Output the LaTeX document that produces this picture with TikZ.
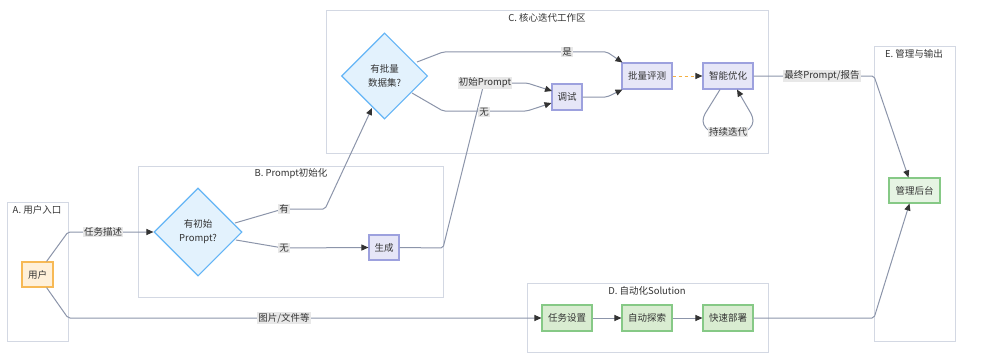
\documentclass[tikz,border=0pt]{standalone}
\usepackage{fontspec}
\setmainfont{Noto Sans CJK SC}
\usetikzlibrary{arrows.meta,shapes.geometric}
\definecolor{clus}{HTML}{D3D8E3}
\definecolor{edgec}{HTML}{8C95AA}
\definecolor{tipc}{HTML}{333333}
\definecolor{lblbg}{HTML}{E8E8E8}
\definecolor{txt}{HTML}{333333}
\definecolor{userf}{HTML}{FFF0D9}
\definecolor{userb}{HTML}{F7B955}
\definecolor{lavf}{HTML}{E6E6F7}
\definecolor{lavb}{HTML}{9DA1DE}
\definecolor{grnf}{HTML}{D9ECD1}
\definecolor{grnb}{HTML}{86C986}
\definecolor{admf}{HTML}{E6F4E3}
\definecolor{diaf}{HTML}{E3F2FD}
\definecolor{diab}{HTML}{64B5F6}
\definecolor{orng}{HTML}{F5B041}
\begin{document}
\begin{tikzpicture}[x=1pt,y=-1pt,
  font=\fontsize{9.5}{11}\selectfont, text=txt,
  cluster/.style={draw=clus, line width=0.9pt, fill=white},
  clabel/.style={inner sep=0pt},
  box/.style={line width=1.1pt, inner sep=1pt, minimum height=25pt, minimum width=50pt},
  lav/.style={box, draw=lavb, fill=lavf},
  grn/.style={box, draw=grnb, fill=grnf},
  decision/.style={diamond, draw=diab, fill=diaf, line width=1.1pt, minimum width=88pt, minimum height=88pt, inner sep=0pt, align=center},
  edge/.style={draw=edgec, line width=1pt, rounded corners=2pt, -{Triangle[length=7pt,width=6pt,fill=tipc,color=tipc]}},
  plain/.style={draw=edgec, line width=1pt, rounded corners=2pt},
  elabel/.style={fill=lblbg, inner sep=1pt}
]
\useasboundingbox (0,0) rectangle (981,361);
% clusters
\draw[cluster] (7,202) rectangle (68,341);
\node[clabel] (la) at (37,210) {A. 用户入口};
\draw[cluster] (138,166) rectangle (443,297);
\node[clabel] (lb) at (291,174) {B. Prompt初始化};
\draw[cluster] (326,10) rectangle (768,153);
\node[clabel] (lc) at (547,18) {C. 核心迭代工作区};
\draw[cluster] (527,283) rectangle (768,352);
\node[clabel] (ld) at (647,291) {D. 自动化Solution};
\draw[cluster] (874,46) rectangle (955,341);
\node[clabel] (le) at (914,54) {E. 管理与输出};
% nodes
\node[box, draw=userb, fill=userf, minimum width=31pt] (user) at (37.5,274.5) {用户};
\node[decision] (d1) at (198,232) {有初始\\[3pt]Prompt?};
\node[lav, minimum width=30pt] (gen) at (384,247.5) {生成};
\node[decision, minimum width=86pt, minimum height=86pt] (d2) at (384.5,76) {有批量\\[3pt]数据集?};
\node[lav, minimum width=30pt, minimum height=26pt] (test) at (567,97) {调试};
\node[lav, minimum height=26pt] (eval) at (647,76) {批量评测};
\node[lav, minimum height=26pt] (opt) at (728,76) {智能优化};
\node[grn, minimum height=26pt] (task) at (567,318) {任务设置};
\node[grn, minimum height=26pt] (explore) at (647,318) {自动探索};
\node[grn, minimum height=26pt] (deploy) at (728,318) {快速部署};
\node[box, draw=grnb, fill=admf, minimum width=51pt] (admin) at (914.5,190.5) {管理后台};
% edges
\draw[edge] ([xshift=-7pt]user.north east) -- (68,232) -- (d1.west);
\node[elabel] (l1) at (103,232) {任务描述};
\draw[edge] (235,223) -- (283,209) -- (325,209) -- (372,108);
\node[elabel] (l2) at (284,209) {有};
\draw[edge] (236,240) -- (283,248) -- (gen.west);
\node[elabel] (l3) at (284,248) {无};
\draw[edge] (gen.east) -- (443,248) -- (484,83) -- (527,83) -- (552,91);
\node[elabel] (l4) at (485,83) {初始Prompt};
\draw[edge] (417,62) -- (443,52) -- (607,52) -- ([xshift=1pt]eval.north west);
\node[elabel] (l5) at (567,52) {是};
\draw[edge] (412,93) -- (443,111) -- (527,111) -- ([yshift=-6pt]test.west);
\node[elabel] (l6) at (484,112) {无};
\draw[edge] (test.east) -- (607,97) -- ([xshift=1pt]eval.south west);
\draw[draw=orng, line width=1pt, dash pattern=on 3pt off 3pt, -{Triangle[length=7pt,width=6pt,fill=tipc,color=tipc]}] (eval.east) -- (opt.west);
\draw[edge, rounded corners=4pt] ([xshift=-8pt]opt.south) -- (703,117) -- (703,125) -- (710,132) -- (746,132) -- (753,125) -- (753,117) -- ([xshift=9pt]opt.south);
\node[elabel] (l7) at (728,132) {持续迭代};
\draw[edge] (opt.east) -- (874,76) -- ([xshift=-6pt]admin.north);
\node[elabel] (l8) at (822,76) {最终Prompt/报告};
\draw[edge] ([xshift=-7pt]user.south east) -- (68,318) -- (task.west);
\node[elabel] (l9) at (284,318) {图片/文件等};
\draw[edge] (task) -- (explore);
\draw[edge] (explore) -- (deploy);
\draw[edge] (deploy.east) -- (874,318) -- ([xshift=-5pt]admin.south);
\end{tikzpicture}
\end{document}
